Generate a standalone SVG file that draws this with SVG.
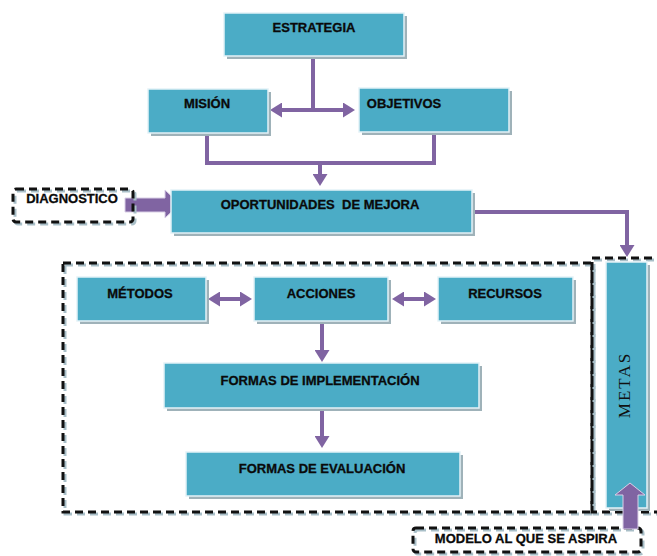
<svg xmlns="http://www.w3.org/2000/svg" width="657" height="556" viewBox="0 0 657 556">
<style>
.sh{fill:#9fb2b9}
.bx{fill:#4bacc6;stroke:#e4f2f7;stroke-width:1.5}
.t{font-family:"Liberation Sans",Arial,sans-serif;font-weight:bold;font-size:13px;fill:#0a0a0a;stroke:#0a0a0a;stroke-width:0.3;text-anchor:middle}
.ln{fill:none;stroke:#8064a2;stroke-width:4}
.ar{marker-end:url(#ah)}
.da{marker-start:url(#ah);marker-end:url(#ah)}
.fat{fill:#8064a2;stroke:#d9cfe6;stroke-width:1}
.dsh{fill:none;stroke:#a9bfc8;stroke-width:3;stroke-dasharray:8 5}
.dk{fill:none;stroke:#111;stroke-width:3;stroke-dasharray:8 5}
</style>
<defs>
<marker id="ah" viewBox="0 0 12 15" refX="0" refY="7.5" markerWidth="12" markerHeight="15" markerUnits="userSpaceOnUse" orient="auto-start-reverse">
<path d="M0,0 L12,7.5 L0,15 z" fill="#8064a2"/>
</marker>
</defs>
<rect width="657" height="556" fill="#fff"/>

<g id="frames">
<rect class="dsh" x="65" y="265" width="529" height="249"/>
<rect class="dk" x="63" y="263" width="529" height="249"/>
<rect class="dsh" x="594" y="260" width="90" height="254"/>
<rect class="dk" x="592" y="258" width="90" height="254"/>
</g>

<g id="connectors">
<path class="ln" d="M313,56 V110"/>
<path class="ln da" d="M282,110 H343"/>
<path class="ln" d="M207,133 V163 H434 V132"/>
<path class="ln ar" d="M320,161 V174"/>
<path class="ln ar" d="M472,212 H627 V245"/>
<path class="ln da" d="M220,299 H240"/>
<path class="ln da" d="M404,299 H424"/>
<path class="ln ar" d="M322,321 V350"/>
<path class="ln ar" d="M322,408 V436"/>
<polygon class="fat" points="125,198 165,198 165,190 180,204 165,218 165,212 125,212"/>
</g>

<g id="estrategia">
<rect class="sh" x="227" y="16" width="180" height="43"/>
<rect class="bx" x="224" y="13" width="180" height="43"/>
<text class="t" x="314" y="32">ESTRATEGIA</text>
</g>
<g id="mision">
<rect class="sh" x="151" y="92" width="120" height="44"/>
<rect class="bx" x="148" y="89" width="120" height="44"/>
<text class="t" x="207" y="108">MISIÓN</text>
</g>
<g id="objetivos">
<rect class="sh" x="362" y="91" width="150" height="44"/>
<rect class="bx" x="359" y="88" width="150" height="44"/>
<text class="t" x="404" y="108">OBJETIVOS</text>
</g>
<g id="diagnostico">
<rect class="dsh" x="15" y="191" width="120" height="33" rx="3"/>
<rect class="dk" x="13" y="189" width="120" height="33" rx="3"/>
<text class="t" x="72" y="203">DIAGNOSTICO</text>
</g>
<g id="oportunidades">
<rect class="sh" x="174" y="193" width="301" height="43"/>
<rect class="bx" x="171" y="190" width="301" height="43"/>
<text class="t" x="320" y="209" xml:space="preserve">OPORTUNIDADES  DE MEJORA</text>
</g>
<g id="metodos">
<rect class="sh" x="80" y="280" width="129" height="44"/>
<rect class="bx" x="77" y="277" width="129" height="44"/>
<text class="t" x="140" y="298">MÉTODOS</text>
</g>
<g id="acciones">
<rect class="sh" x="257" y="280" width="134" height="44"/>
<rect class="bx" x="254" y="277" width="134" height="44"/>
<text class="t" x="321" y="298">ACCIONES</text>
</g>
<g id="recursos">
<rect class="sh" x="441" y="280" width="135" height="44"/>
<rect class="bx" x="438" y="277" width="135" height="44"/>
<text class="t" x="505" y="298">RECURSOS</text>
</g>
<g id="implementacion">
<rect class="sh" x="167" y="366" width="315" height="45"/>
<rect class="bx" x="164" y="363" width="315" height="45"/>
<text class="t" x="320" y="385">FORMAS DE IMPLEMENTACIÓN</text>
</g>
<g id="evaluacion">
<rect class="sh" x="189" y="455" width="274" height="44"/>
<rect class="bx" x="186" y="452" width="274" height="44"/>
<text class="t" x="322" y="473">FORMAS DE EVALUACIÓN</text>
</g>
<g id="metas">
<rect class="sh" x="609" y="265" width="41" height="246"/>
<rect class="bx" x="606" y="262" width="41" height="246"/>
<text transform="translate(630,385) rotate(-90)" font-family="'Liberation Serif','Times New Roman',serif" font-size="17" letter-spacing="2" fill="#111" text-anchor="middle">METAS</text>
</g>
<g id="modelo">
<rect class="dsh" x="415" y="530" width="228" height="24" rx="3"/>
<rect class="dk" x="413" y="528" width="228" height="24" rx="3"/>
<text class="t" x="526" y="543">MODELO AL QUE SE ASPIRA</text>
</g>
<g id="connector-up">
<polygon class="fat" points="623,529 623,495 615,495 630,483 645,495 638,495 638,529"/>
</g>
</svg>
